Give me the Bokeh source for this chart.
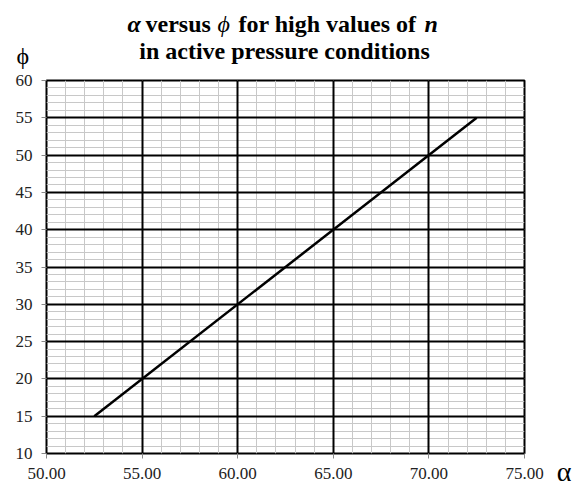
from bokeh.plotting import figure
from bokeh.layouts import column, row
from bokeh.models import FixedTicker, Range1d, NumeralTickFormatter, Grid, LinearAxis
from bokeh.core.properties import value
from bokeh.embed import file_html
from bokeh.resources import INLINE

# data
alpha = [52.5, 72.5]
phi = [15, 55]
x_ticks = [50, 55, 60, 65, 70, 75]
y_ticks = [10, 15, 20, 25, 30, 35, 40, 45, 50, 55, 60]
x_minor = list(range(50, 76))
y_minor = list(range(10, 61))
title_line2 = "in active pressure conditions"
x_symbol = "α"
y_symbol = "ϕ"

SERIF = "Liberation Serif"


def txt(f, x, y, s, size, style="bold", align="left"):
    f.text(x=[x], y=[y], text=[s], text_font=value(SERIF), text_font_size=value(size),
           text_font_style=value(style), text_baseline=value("alphabetic"),
           text_align=value(align), text_color="black")


# ---- title panel ----
TH = 70
t = figure(width=586, height=TH, output_backend="svg", toolbar_location=None,
           x_range=Range1d(0, 586), y_range=Range1d(0, TH),
           x_axis_type=None, y_axis_type=None, min_border=0, outline_line_color=None)
t.grid.visible = False
b1 = TH - 23
b2 = TH - 50
txt(t, 127, b1, "α", "24px", "bold italic")
txt(t, 145, b1, "versus", "24px", "bold")
txt(t, 217, b1, "ϕ", "24px", "italic")
txt(t, 238, b1, "for high values of", "24px", "bold")
txt(t, 424, b1, "n", "24px", "bold italic")
txt(t, 284, b2, title_line2, "24px", "bold", "center")
txt(t, 16, TH - 55, y_symbol, "24px", "normal")

# ---- main plot ----
p = figure(frame_width=478, frame_height=373, output_backend="svg", toolbar_location=None,
           x_range=Range1d(50, 75), y_range=Range1d(10, 60),
           min_border_left=46, min_border_right=22, min_border_top=10, min_border_bottom=33,
           background_fill_color="white", border_fill_color="white")
p.grid.visible = False
p.outline_line_color = "black"
p.outline_line_width = 2

p.xaxis.ticker = FixedTicker(ticks=x_ticks)
p.yaxis.ticker = FixedTicker(ticks=y_ticks)
p.xaxis.formatter = NumeralTickFormatter(format="0.00")
for ax in (p.xaxis, p.yaxis):
    ax.axis_line_color = None
    ax.major_tick_in = 0
    ax.major_tick_out = 5
    ax.major_tick_line_color = "#888888"
    ax.minor_tick_line_color = None
    ax.major_label_text_font = SERIF
    ax.major_label_text_font_size = "17px"
    ax.major_label_text_color = "#222222"
p.xaxis.major_label_standoff = 9
p.yaxis.major_label_standoff = 9

# minor grids first, major grids on top
p.add_layout(Grid(dimension=0, ticker=FixedTicker(ticks=[], minor_ticks=x_minor),
                  grid_line_color=None, minor_grid_line_color="#c8c8c8", minor_grid_line_width=1))
p.add_layout(Grid(dimension=1, ticker=FixedTicker(ticks=[], minor_ticks=y_minor),
                  grid_line_color=None, minor_grid_line_color="#c8c8c8", minor_grid_line_width=1))
p.add_layout(Grid(dimension=0, ticker=FixedTicker(ticks=x_ticks),
                  grid_line_color="black", grid_line_width=2))
p.add_layout(Grid(dimension=1, ticker=FixedTicker(ticks=y_ticks),
                  grid_line_color="black", grid_line_width=2))

p.line(alpha, phi, line_color="black", line_width=2.5)

# ---- x-axis symbol panel (its own axis carries the α) ----
a = figure(frame_width=40, frame_height=373, output_backend="svg", toolbar_location=None,
           x_range=Range1d(0, 40), y_range=Range1d(0, 1),
           x_axis_type=None, y_axis_type=None,
           min_border_left=0, min_border_right=0, min_border_top=10, min_border_bottom=0,
           outline_line_color=None)
a.grid.visible = False
sym_axis = LinearAxis(ticker=FixedTicker(ticks=[17.5]), major_label_overrides={17.5: x_symbol},
                      axis_line_color=None, major_tick_line_color=None, minor_tick_line_color=None,
                      major_tick_in=0, major_tick_out=0, major_label_standoff=2,
                      major_label_text_font=SERIF, major_label_text_font_size="28px",
                      major_label_text_color="black")
a.add_layout(sym_axis, "below")

layout = column(t, row(p, a, spacing=0), spacing=0)
open("out.html", "w").write(file_html(layout, INLINE))
